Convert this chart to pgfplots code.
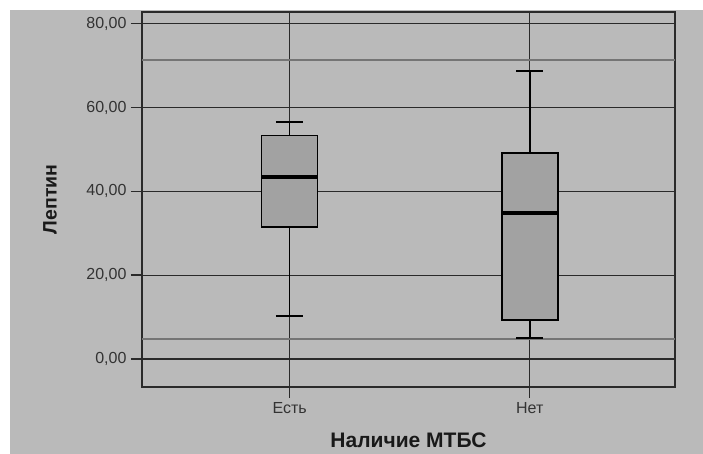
\documentclass[border=0pt]{standalone}
\usepackage{pgfplots}
\pgfplotsset{compat=1.18}
\usepackage{fontspec}
\setmainfont{Liberation Sans}
\definecolor{bg}{HTML}{BABABA}
\definecolor{boxfill}{HTML}{A2A2A2}
\definecolor{ln}{HTML}{2A2A2A}
\definecolor{refl}{HTML}{757575}
\definecolor{txt}{HTML}{333333}
\begin{document}
\begin{tikzpicture}
\fill[white] (0pt,0pt) rectangle (703pt,454pt);
\fill[bg] (10pt,0pt) rectangle (703pt,444pt);
\begin{axis}[
  at={(142pt,67pt)}, anchor=south west,
  scale only axis, width=533pt, height=375pt,
  xmin=-0.615, xmax=1.605, ymin=-6.7, ymax=82.8,
  xtick={0,1}, xticklabels={Есть,Нет},
  ytick={0,20,40,60,80},
  tick pos=left, tick align=outside, major tick length=11pt,
  every tick/.style={ln, line width=1.3pt},
  axis line style={ln, line width=1.3pt},
  grid=major, grid style={ln, line width=1.2pt},
  ticklabel style={font=\fontsize{16}{18}\selectfont, text=txt},
  yticklabel style={xshift=-1pt, /pgf/number format/.cd, fixed, fixed zerofill, precision=2, use comma, assume math mode=true},
  xticklabel style={yshift=-1pt},
  ylabel={\bfseries Лептин},
  xlabel={\bfseries Наличие МТБС},
  ylabel style={at={(axis description cs:-0.1726,0.5)}, anchor=center, font=\fontsize{19.5}{21}\selectfont, text=black!90},
  xlabel style={at={(axis description cs:0.5,-0.1413)}, anchor=center, font=\fontsize{21}{23}\selectfont, text=black!90},
]
% reference lines
\addplot[refl, line width=2pt] coordinates {(-0.615,71.4) (1.605,71.4)};
\addplot[refl, line width=2pt] coordinates {(-0.615,4.7) (1.605,4.7)};
% Есть: whiskers 10.3 / 56.6, box 31.5-53.3, median 43.5
\addplot[black, line width=1.5pt] coordinates {(0,31.5) (0,10.3)};
\addplot[black, line width=1.5pt] coordinates {(0,53.3) (0,56.6)};
\addplot[black, line width=1.8pt] coordinates {(-0.057,10.3) (0.057,10.3)};
\addplot[black, line width=1.8pt] coordinates {(-0.057,56.6) (0.057,56.6)};
\addplot[draw=black, fill=boxfill, line width=1.6pt] coordinates {(-0.1165,31.5) (0.1165,31.5) (0.1165,53.3) (-0.1165,53.3)} -- cycle;
\addplot[black, line width=4pt] coordinates {(-0.1165,43.5) (0.1165,43.5)};
% Нет: whiskers 4.9 / 68.8, box 9.3-49.1, median 34.9
\addplot[black, line width=1.5pt] coordinates {(1,9.3) (1,4.9)};
\addplot[black, line width=1.5pt] coordinates {(1,49.1) (1,68.8)};
\addplot[black, line width=1.8pt] coordinates {(0.943,4.9) (1.057,4.9)};
\addplot[black, line width=1.8pt] coordinates {(0.943,68.8) (1.057,68.8)};
\addplot[draw=black, fill=boxfill, line width=1.6pt] coordinates {(0.8835,9.3) (1.1165,9.3) (1.1165,49.1) (0.8835,49.1)} -- cycle;
\addplot[black, line width=4pt] coordinates {(0.8835,34.9) (1.1165,34.9)};
\end{axis}
\end{tikzpicture}
\end{document}
